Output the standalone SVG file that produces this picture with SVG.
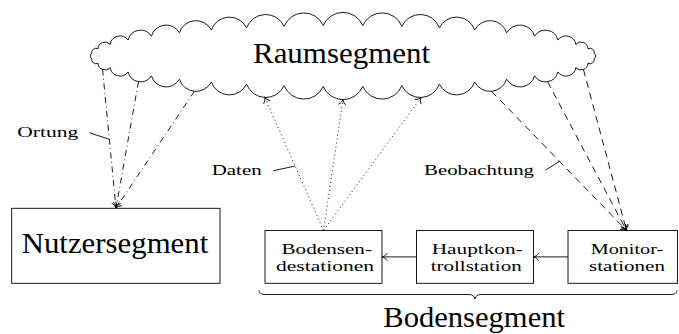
<svg xmlns="http://www.w3.org/2000/svg" width="679" height="334" viewBox="0 0 679 334">
<style>
.ln{fill:none;stroke:#000;stroke-width:0.9}
.box{fill:#fff;stroke:#000;stroke-width:0.9}
.big{font-family:"Liberation Serif",serif;font-size:30px;fill:#000}
.sm{font-family:"Liberation Serif",serif;font-size:14.5px;fill:#000}
.dd{stroke-dasharray:6 3.5 0.9 3.5}
.dt{stroke-dasharray:1 3}
.da{stroke-dasharray:7 5}
</style>
<defs>
<marker id="to" markerUnits="userSpaceOnUse" markerWidth="12" markerHeight="12" viewBox="-6 -6 12 12" refX="0" refY="0" orient="auto" overflow="visible">
<path d="M-5,-3.5 C-4,-1.5 -1.5,-0.4 0,0 C-1.5,0.4 -4,1.5 -5,3.5" fill="none" stroke="#000" stroke-width="0.9" stroke-dasharray="none" stroke-linecap="round"/>
</marker>
</defs>
<g id="raumsegment">
<path class="ln" fill="#fff" d="M323.23,25.59 A21.40,21.40 0 0 1 362.77,25.59 A21.14,21.14 0 0 1 401.83,26.34 A20.37,20.37 0 0 1 439.44,27.82 A19.10,19.10 0 0 1 474.67,29.99 A17.38,17.38 0 0 1 506.66,32.81 A15.24,15.24 0 0 1 534.62,36.19 A12.76,12.76 0 0 1 557.87,40.06 A9.99,9.99 0 0 1 575.82,44.33 A7.06,7.06 0 0 1 588.04,48.88 A4.21,4.21 0 0 1 594.22,53.61 A2.59,2.59 0 0 1 594.22,58.39 A4.21,4.21 0 0 1 588.04,63.12 A7.06,7.06 0 0 1 575.82,67.67 A9.99,9.99 0 0 1 557.87,71.94 A12.76,12.76 0 0 1 534.62,75.81 A15.24,15.24 0 0 1 506.66,79.19 A17.38,17.38 0 0 1 474.67,82.01 A19.10,19.10 0 0 1 439.44,84.18 A20.37,20.37 0 0 1 401.83,85.66 A21.14,21.14 0 0 1 362.77,86.41 A21.40,21.40 0 0 1 323.23,86.41 A21.14,21.14 0 0 1 284.17,85.66 A20.37,20.37 0 0 1 246.56,84.18 A19.10,19.10 0 0 1 211.33,82.01 A17.38,17.38 0 0 1 179.34,79.19 A15.24,15.24 0 0 1 151.38,75.81 A12.76,12.76 0 0 1 128.13,71.94 A9.99,9.99 0 0 1 110.18,67.67 A7.06,7.06 0 0 1 97.96,63.12 A4.21,4.21 0 0 1 91.78,58.39 A2.59,2.59 0 0 1 91.78,53.61 A4.21,4.21 0 0 1 97.96,48.88 A7.06,7.06 0 0 1 110.18,44.33 A9.99,9.99 0 0 1 128.13,40.06 A12.76,12.76 0 0 1 151.38,36.19 A15.24,15.24 0 0 1 179.34,32.81 A17.38,17.38 0 0 1 211.33,29.99 A19.10,19.10 0 0 1 246.56,27.82 A20.37,20.37 0 0 1 284.17,26.34 A21.14,21.14 0 0 1 323.23,25.59 Z"/>
<text class="big" x="253" y="63" textLength="177" lengthAdjust="spacingAndGlyphs">Raumsegment</text>
</g>
<g id="nutzersegment">
<rect class="box" x="11.7" y="208.3" width="208.3" height="75"/>
<text class="big" x="21.7" y="253.3" textLength="186.6" lengthAdjust="spacingAndGlyphs">Nutzersegment</text>
</g>
<g id="bodensendestationen">
<rect class="box" x="265" y="230.5" width="117" height="52.8"/>
<text class="sm" x="281.5" y="254" textLength="90.5" lengthAdjust="spacingAndGlyphs">Bodensen-</text>
<text class="sm" x="276" y="271" textLength="98" lengthAdjust="spacingAndGlyphs">destationen</text>
</g>
<g id="hauptkontrollstation">
<rect class="box" x="416.5" y="230.5" width="117" height="52.8"/>
<text class="sm" x="431.7" y="254" textLength="91" lengthAdjust="spacingAndGlyphs">Hauptkon-</text>
<text class="sm" x="430.7" y="271" textLength="91" lengthAdjust="spacingAndGlyphs">trollstation</text>
</g>
<g id="monitorstationen">
<rect class="box" x="568" y="230.5" width="109.5" height="52.8"/>
<text class="sm" x="590.7" y="254" textLength="72.6" lengthAdjust="spacingAndGlyphs">Monitor-</text>
<text class="sm" x="589" y="271" textLength="76" lengthAdjust="spacingAndGlyphs">stationen</text>
</g>
<g id="bodensegment">
<path class="ln" d="M259,290.5 Q259.5,294.5 265,294.5 L469,294.5 Q474,294.5 475,299 Q476,294.5 481,294.5 L671,294.5 Q676.5,294.5 677,290.5"/>
<text class="big" x="383.3" y="326.7" textLength="181.7" lengthAdjust="spacingAndGlyphs">Bodensegment</text>
</g>
<g id="connectors">
<path class="ln dd" marker-end="url(#to)" d="M102.55,69.48 L116,208"/>
<path class="ln dd" marker-end="url(#to)" d="M138.46,81.64 L116,208"/>
<path class="ln dd" marker-end="url(#to)" d="M194.4,91.3 L116,208"/>
<path class="ln dt" marker-end="url(#to)" d="M323.5,230.5 L264.88,97.48"/>
<path class="ln dt" marker-end="url(#to)" d="M323.5,230.5 L343,99.62"/>
<path class="ln dt" marker-end="url(#to)" d="M323.5,230.5 L421.12,97.48"/>
<path class="ln da" marker-end="url(#to)" d="M491.6,91.3 L626.5,230.5"/>
<path class="ln da" marker-end="url(#to)" d="M547.54,81.64 L626.5,230.5"/>
<path class="ln da" marker-end="url(#to)" d="M583.45,69.48 L626.5,230.5"/>
<path class="ln" marker-end="url(#to)" d="M416.5,256.9 L382,256.9"/>
<path class="ln" marker-end="url(#to)" d="M568,256.9 L533.5,256.9"/>
<path class="ln" d="M89.3,132.7 L109.3,139.3"/>
<path class="ln" d="M273.3,170.7 L295.2,166"/>
<path class="ln" d="M545.7,170 L559.3,161.5"/>
<text class="sm" x="17.3" y="136.7" textLength="61" lengthAdjust="spacingAndGlyphs">Ortung</text>
<text class="sm" x="211.7" y="175" textLength="50" lengthAdjust="spacingAndGlyphs">Daten</text>
<text class="sm" x="424" y="175" textLength="110" lengthAdjust="spacingAndGlyphs">Beobachtung</text>
</g>
</svg>
